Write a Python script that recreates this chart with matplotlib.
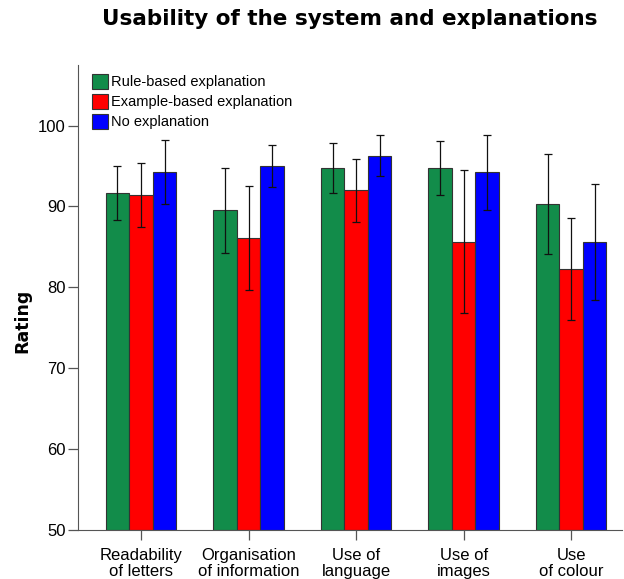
import numpy as np
import matplotlib.pyplot as plt
from matplotlib.patches import Patch

categories = ["Readability\nof letters", "Organisation\nof information", "Use of\nlanguage",
              "Use of\nimages", "Use\nof colour"]
series = ["Rule-based explanation", "Example-based explanation", "No explanation"]
colors = ["#128c4a", "#ff0000", "#0000ff"]

# mean ratings per series
rule = [91.6, 89.5, 94.7, 94.7, 90.3]
example = [91.4, 86.1, 92.0, 85.6, 82.3]
none_ = [94.3, 95.0, 96.2, 94.2, 85.6]

# error bar ends (low, high)
rule_lo = [88.3, 84.2, 91.7, 91.4, 84.1]
rule_hi = [95.0, 94.8, 97.8, 98.1, 96.5]
example_lo = [87.5, 79.7, 88.1, 76.8, 76.0]
example_hi = [95.4, 92.5, 95.9, 94.5, 88.6]
none_lo = [90.3, 92.4, 93.7, 89.5, 78.4]
none_hi = [98.2, 97.6, 98.8, 98.8, 92.8]

means = [rule, example, none_]
lows = [rule_lo, example_lo, none_lo]
highs = [rule_hi, example_hi, none_hi]

fig = plt.figure(figsize=(6.24, 5.79), dpi=100)
ax = fig.add_axes([0.125, 0.0846, 0.872, 0.8034])

x = np.arange(len(categories))
w = 0.219
for i in range(3):
    m = np.array(means[i])
    err = [m - np.array(lows[i]), np.array(highs[i]) - m]
    ax.bar(x + (i - 1) * w, m - 50, bottom=50, width=w, color=colors[i],
           edgecolor="#333333", linewidth=0.8, zorder=2)
    ax.errorbar(x + (i - 1) * w, m, yerr=err, fmt="none", ecolor="#111111",
                elinewidth=0.9, capsize=3, capthick=0.9, zorder=3)

ax.set_ylim(50, 107.5)
ax.set_xlim(-0.586, 4.474)
ax.set_yticks([50, 60, 70, 80, 90, 100])
ax.set_xticks(x)
ax.set_xticklabels(categories, fontsize=12, family="Liberation Sans", linespacing=1.05)
for t in ax.get_yticklabels():
    t.set_fontsize(12)
    t.set_family("Liberation Sans")
ax.tick_params(axis="both", direction="out", length=7, width=0.9, color="#555555")
ax.tick_params(axis="x", pad=6)
ax.tick_params(axis="y", pad=2)
ax.spines["top"].set_visible(False)
ax.spines["right"].set_visible(False)
ax.spines["left"].set_color("#555555")
ax.spines["bottom"].set_color("#555555")

ax.set_ylabel("Rating", fontsize=12.5, fontweight="bold", family="DejaVu Sans", labelpad=1)
ax.yaxis.set_label_coords(-0.085, 0.45)
fig.suptitle("Usability of the system and explanations", x=0.56, y=0.985,
             fontsize=15.5, fontweight="bold", family="DejaVu Sans")

handles = [Patch(facecolor=c, edgecolor="#333333", linewidth=0.8) for c in colors]
ax.legend(handles, series, loc="upper left", bbox_to_anchor=(0.01, 1.0), frameon=False,
          prop={"family": "Liberation Sans", "size": 10.5}, handlelength=1.1,
          handleheight=1.2, handletextpad=0.2, labelspacing=0.32, borderaxespad=0.2)

fig.savefig("out.png", dpi=100)
